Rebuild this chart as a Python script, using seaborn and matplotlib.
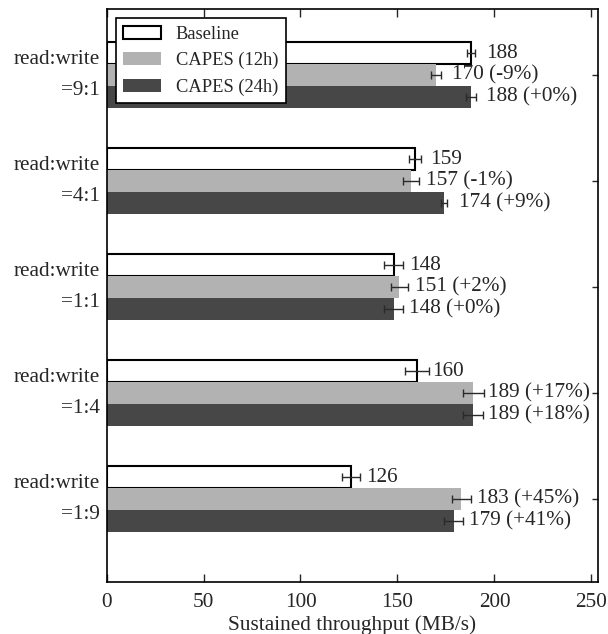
import numpy as np
import pandas as pd
import matplotlib
matplotlib.use("Agg")
import matplotlib.pyplot as plt
import seaborn as sns

categories = ["read:write\n=9:1", "read:write\n=4:1", "read:write\n=1:1",
              "read:write\n=1:4", "read:write\n=1:9"]
series = ["Baseline", "CAPES (12h)", "CAPES (24h)"]
baseline = [188, 159, 148, 160, 126]
capes12 = [170, 157, 151, 189, 183]
capes24 = [188, 174, 148, 189, 179]
err_baseline = [2.0, 3.0, 4.7, 6.3, 4.6]
err_capes12 = [2.6, 4.0, 4.5, 5.4, 5.0]
err_capes24 = [2.6, 1.7, 4.8, 5.2, 5.0]
label_baseline = ["188", "159", "148", "160", "126"]
label_capes12 = ["170 (-9%)", "157 (-1%)", "151 (+2%)", "189 (+17%)", "183 (+45%)"]
label_capes24 = ["188 (+0%)", "174 (+9%)", "148 (+0%)", "189 (+18%)", "179 (+41%)"]
xticks = [0, 50, 100, 150, 200, 250]

values = [baseline, capes12, capes24]
errs = [err_baseline, err_capes12, err_capes24]
labels = [label_baseline, label_capes12, label_capes24]

df = pd.DataFrame({
    "category": np.repeat([categories], 3, axis=0).ravel(),
    "series": np.repeat(series, len(categories)),
    "value": np.concatenate(values),
})

sns.set_style("ticks")
plt.rcParams["font.family"] = ["Liberation Serif", "DejaVu Serif"]
FS = 15.3
LFS = 13.3

fig = plt.figure(figsize=(6.08, 6.34), dpi=100)
ax = fig.add_axes([0.1752, 0.0820, 0.8084, 0.9038])

palette = {"Baseline": "#ffffff", "CAPES (12h)": "#b2b2b2", "CAPES (24h)": "#474747"}
sns.barplot(data=df, y="category", x="value", hue="series", order=categories,
            hue_order=series, palette=palette, orient="h", width=0.6226,
            errorbar=None, saturation=1, linewidth=0, legend=False, ax=ax)

for p in ax.containers[0]:
    p.set_edgecolor("black")
    p.set_linewidth(1.5)

for cont, err, labs in zip(ax.containers, errs, labels):
    for p, e, lab in zip(cont, err, labs):
        yc = p.get_y() + p.get_height() / 2
        w = p.get_width()
        ax.errorbar(w, yc, xerr=e, fmt="none", ecolor="#2a2a2a",
                    elinewidth=1.0, capsize=3, capthick=1.0, zorder=5)
        ax.annotate(lab, xy=(w, yc), xytext=(11, 0), textcoords="offset points",
                    va="center", ha="left", fontsize=FS)

ax.set_xlim(0, 253.4)
ax.set_ylim(4.783, -0.623)
ax.set_xticks(xticks)
ax.set_xticklabels([str(t) for t in xticks])
ax.set_yticks(range(len(categories)))
ax.set_yticklabels(categories, linespacing=1.87, fontsize=FS, va="center")
ax.set_xlabel("Sustained throughput (MB/s)", fontsize=FS, labelpad=2)
ax.set_ylabel("")
ax.tick_params(axis="x", direction="in", top=True, length=6, width=1.0,
               labelsize=FS, pad=8)
ax.tick_params(axis="y", direction="in", right=True, length=4, width=1.0,
               pad=5)
for s in ax.spines.values():
    s.set_visible(True)
    s.set_linewidth(1.2)
    s.set_color("black")

leg = ax.legend(ax.containers, series, loc="upper left", fontsize=LFS,
                frameon=True, fancybox=False, edgecolor="black",
                framealpha=1, borderaxespad=0.5, borderpad=0.4,
                labelspacing=0.5, handlelength=2.05, handleheight=0.7,
                handletextpad=0.8)
leg.get_frame().set_linewidth(1.2)

fig.savefig("out.png", dpi=100)
